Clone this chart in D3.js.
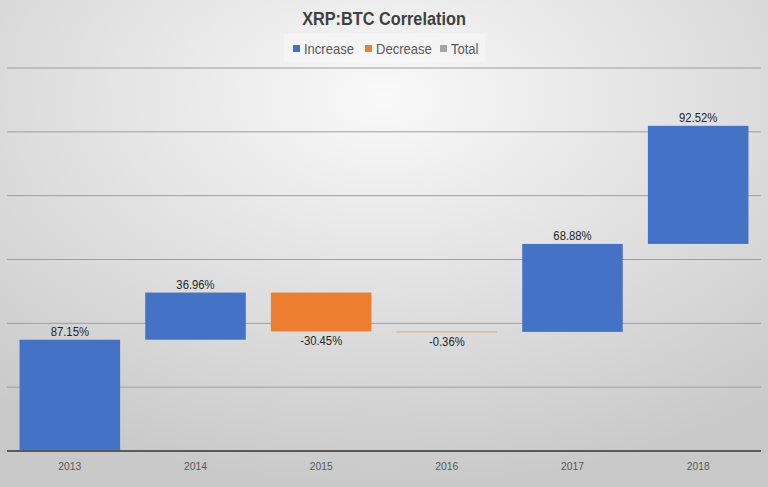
<!DOCTYPE html>
<html><head><meta charset="utf-8">
<script src="https://cdn.jsdelivr.net/npm/d3@7"></script>
<style>body{margin:0;overflow:hidden}svg{display:block}</style>
</head><body>
<svg id="c" width="768" height="487"></svg>
<script>
const categories = ["2013","2014","2015","2016","2017","2018"];
const values = [87.15, 36.96, -30.45, -0.36, 68.88, 92.52];
const labels = ["87.15%","36.96%","-30.45%","-0.36%","68.88%","92.52%"];
const yTicks = [0, 50, 100, 150, 200, 250, 300];
const legendItems = ["Increase","Decrease","Total"];
const legendColors = ["#4472C4","#ED7D31","#A5A5A5"];

const W = 768, H = 487;
const svg = d3.select("#c");
const font = "'Liberation Sans',Arial,sans-serif";

function condense(sel, f) {
  sel.each(function(){
    const L = this.getComputedTextLength();
    d3.select(this).attr("textLength", L*f).attr("lengthAdjust","spacingAndGlyphs");
  });
}

const defs = svg.append("defs");
const g = defs.append("radialGradient").attr("id","bg")
  .attr("cx","50%").attr("cy","20%").attr("r","80%");
g.append("stop").attr("offset","0%").attr("stop-color","#f9f9f9");
g.append("stop").attr("offset","100%").attr("stop-color","#c9c9c9");
svg.append("rect").attr("width",W).attr("height",H).attr("fill","url(#bg)");

const x = d3.scaleBand().domain(categories).range([7, 761]).paddingInner(0.2).paddingOuter(0.1);
const y = d3.scaleLinear().domain([0, 300]).range([451, 68]);

// gridlines
svg.append("g").selectAll("line").data(yTicks.slice(1)).join("line")
  .attr("x1",7).attr("x2",761)
  .attr("y1",d=>y(d)).attr("y2",d=>y(d))
  .attr("stroke","#9e9e9e").attr("stroke-width",1);

// waterfall data
let cum = 0;
const bars = values.map((v,i)=>{
  const start = cum; cum += v;
  return {cat:categories[i], v, start, end:cum, label:labels[i]};
});

svg.append("g").selectAll("rect").data(bars).join("rect")
  .attr("x",d=>x(d.cat))
  .attr("width",x.bandwidth())
  .attr("y",d=>y(Math.max(d.start,d.end)))
  .attr("height",d=>Math.max(1, Math.abs(y(d.start)-y(d.end))))
  .attr("fill",d=>d.v>=0?legendColors[0]:legendColors[1])
  .attr("fill-opacity",d=>Math.abs(y(d.start)-y(d.end))<2?0.6:1);

// data labels
const dl = svg.append("g").selectAll("text").data(bars).join("text")
  .attr("x",d=>x(d.cat)+x.bandwidth()/2)
  .attr("y",d=>d.v>=0 ? y(d.end)-4 : y(d.end)+14)
  .attr("text-anchor","middle")
  .attr("font-family",font).attr("font-size",12)
  .attr("fill","#262626")
  .text(d=>d.label);
condense(dl, 0.94);

// x axis
const xAxis = svg.append("g").attr("transform","translate(0,451)")
  .call(d3.axisBottom(x).tickSize(0).tickPadding(11));
xAxis.select(".domain").attr("stroke","#595959").attr("stroke-width",2).attr("d","M7,0H761");
const xt = xAxis.selectAll("text").attr("font-family",font).attr("font-size",11.5).attr("fill","#595959");
condense(xt, 0.9);

// title
const title = svg.append("text").attr("x",384).attr("y",25).attr("text-anchor","middle")
  .attr("font-family",font).attr("font-weight","bold").attr("font-size",17.5)
  .attr("fill","#404040").text("XRP:BTC Correlation");
condense(title, 0.93);

// legend
svg.append("rect").attr("x",284).attr("y",33).attr("width",201).attr("height",29)
  .attr("fill","#ffffff").attr("fill-opacity",0.25);
const legendX = [293, 365, 440];
const lg = svg.append("g").selectAll("g").data(legendItems).join("g")
  .attr("transform",(d,i)=>`translate(${legendX[i]},0)`);
lg.append("rect").attr("x",0).attr("y",45).attr("width",7).attr("height",7)
  .attr("fill",(d,i)=>legendColors[i]);
const lt = lg.append("text").attr("x",11).attr("y",54)
  .attr("font-family",font).attr("font-size",14).attr("fill","#595959")
  .text(d=>d);
condense(lt, 0.93);
</script>
</body></html>
